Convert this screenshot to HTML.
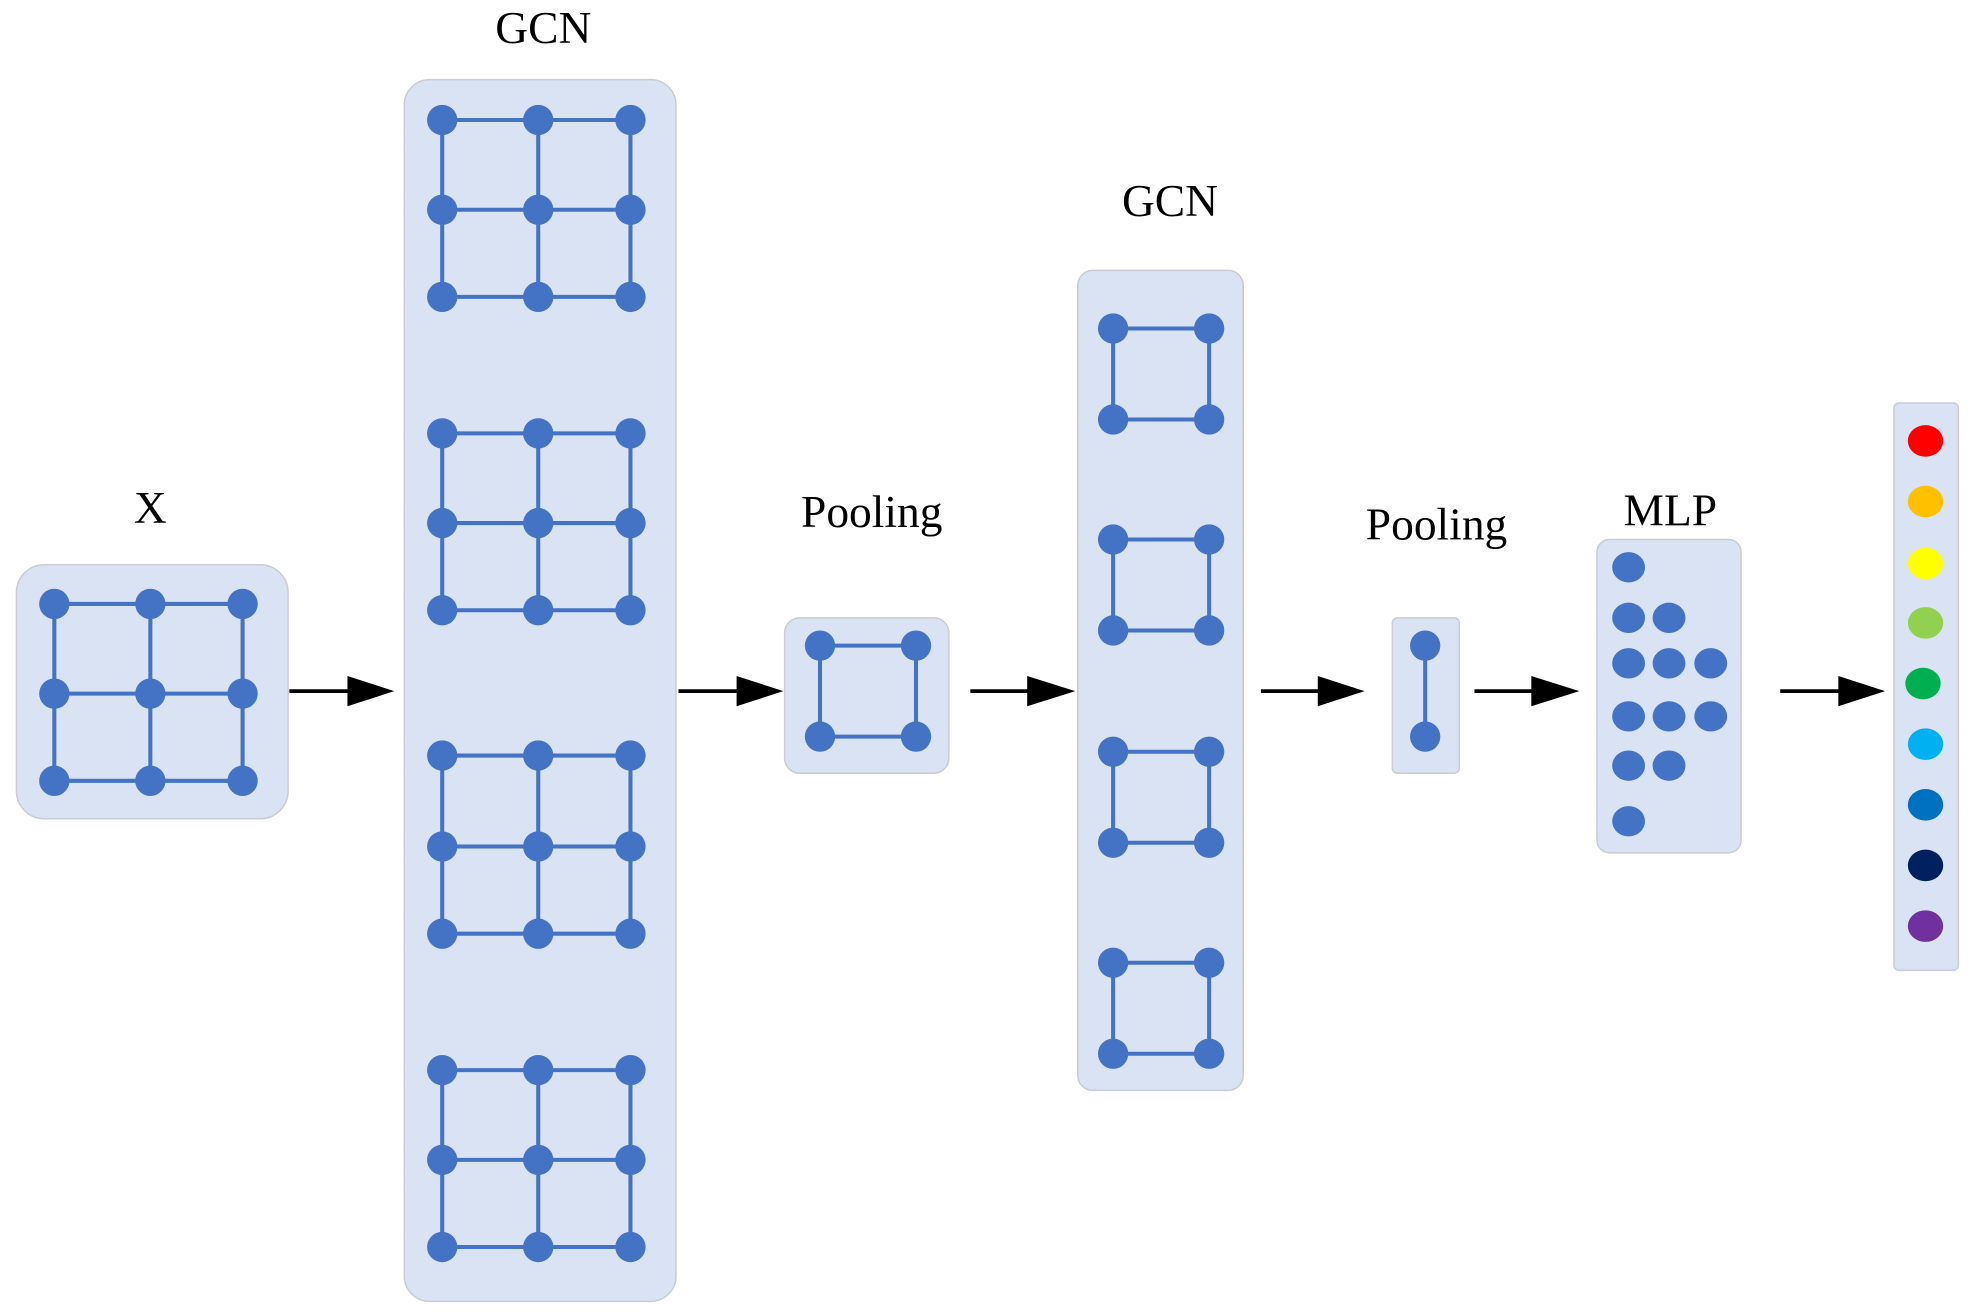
<!DOCTYPE html>
<html><head><meta charset="utf-8">
<style>html,body{margin:0;padding:0;background:#fff;}svg{display:block;}
text{font-family:"Liberation Serif",serif;font-size:36px;fill:#000;text-anchor:middle;}</style></head>
<body>
<svg id="s" width="1971" height="1314" viewBox="0 0 1560 1040" xmlns="http://www.w3.org/2000/svg">
<g fill="#dae3f3" stroke="#c9ccd3" stroke-width="1.2">
<rect x="13" y="447" width="215" height="201" rx="22"/>
<rect x="320" y="63" width="215" height="967" rx="20"/>
<rect x="621" y="489" width="130" height="123" rx="12"/>
<rect x="853" y="214" width="131" height="649" rx="12"/>
<rect x="1102" y="489" width="53" height="123" rx="4"/>
<rect x="1264" y="427" width="114" height="248" rx="10"/>
<rect x="1499" y="319" width="51" height="449" rx="4"/>
</g>
<text x="119" y="414">X</text>
<text x="430" y="34">GCN</text>
<text x="690" y="417">Pooling</text>
<text x="926" y="171">GCN</text>
<text x="1137" y="427">Pooling</text>
<text x="1322" y="416">MLP</text>
<g id="g"></g>
<g fill="#000" stroke="#000" stroke-width="3">
<line x1="229" y1="547" x2="280" y2="547"/><polygon stroke="none" points="275,535 312,547 275,559"/>
<line x1="537" y1="547" x2="588" y2="547"/><polygon stroke="none" points="583,535 620,547 583,559"/>
<line x1="768" y1="547" x2="818" y2="547"/><polygon stroke="none" points="813,535 851,547 813,559"/>
<line x1="998" y1="547" x2="1048" y2="547"/><polygon stroke="none" points="1043,535 1080,547 1043,559"/>
<line x1="1167" y1="547" x2="1217" y2="547"/><polygon stroke="none" points="1212,535 1250,547 1212,559"/>
<line x1="1409" y1="547" x2="1460" y2="547"/><polygon stroke="none" points="1455,535 1492,547 1455,559"/>
</g>
</svg>
<script>
var g=document.getElementById('g'),NS='http://www.w3.org/2000/svg',B='#4472c4';
function L(a,b,c,d){var e=document.createElementNS(NS,'line');e.setAttribute('x1',a);e.setAttribute('y1',b);e.setAttribute('x2',c);e.setAttribute('y2',d);e.setAttribute('stroke',B);e.setAttribute('stroke-width','3.2');g.appendChild(e);}
function C(x,y,r,f,rx){var e=document.createElementNS(NS,'ellipse');e.setAttribute('cx',x);e.setAttribute('cy',y);e.setAttribute('rx',rx||r);e.setAttribute('ry',r);e.setAttribute('fill',f||B);g.appendChild(e);}
function grid(xs,ys){var i,j;for(i=0;i<ys.length;i++)L(xs[0],ys[i],xs[xs.length-1],ys[i]);for(j=0;j<xs.length;j++)L(xs[j],ys[0],xs[j],ys[ys.length-1]);for(i=0;i<ys.length;i++)for(j=0;j<xs.length;j++)C(xs[j],ys[i],12);}
grid([43,119,192],[478,549,618]);
[[95,166,235],[343,414,483],[598,670,739],[847,918,987]].forEach(function(r){grid([350,426,499],r);});
grid([649,725],[511,583]);
[[260,332],[427,499],[595,667],[762,834]].forEach(function(r){grid([881,957],r);});
grid([1128],[511,583]);
var mx=[1289,1321,1354];[[449,1],[489,2],[525,3],[567,3],[606,2],[650,1]].forEach(function(r){for(var j=0;j<r[1];j++)C(mx[j],r[0],12,B,13);});
var cols=['#ff0000','#ffc000','#ffff00','#92d050','#00b050','#00b0f0','#0070c0','#002060','#7030a0'];
[349,397,446,493,541,589,637,685,733].forEach(function(y,i){C(i==4?1522:1524,y,12.5,cols[i],14);});
</script>
</body></html>
